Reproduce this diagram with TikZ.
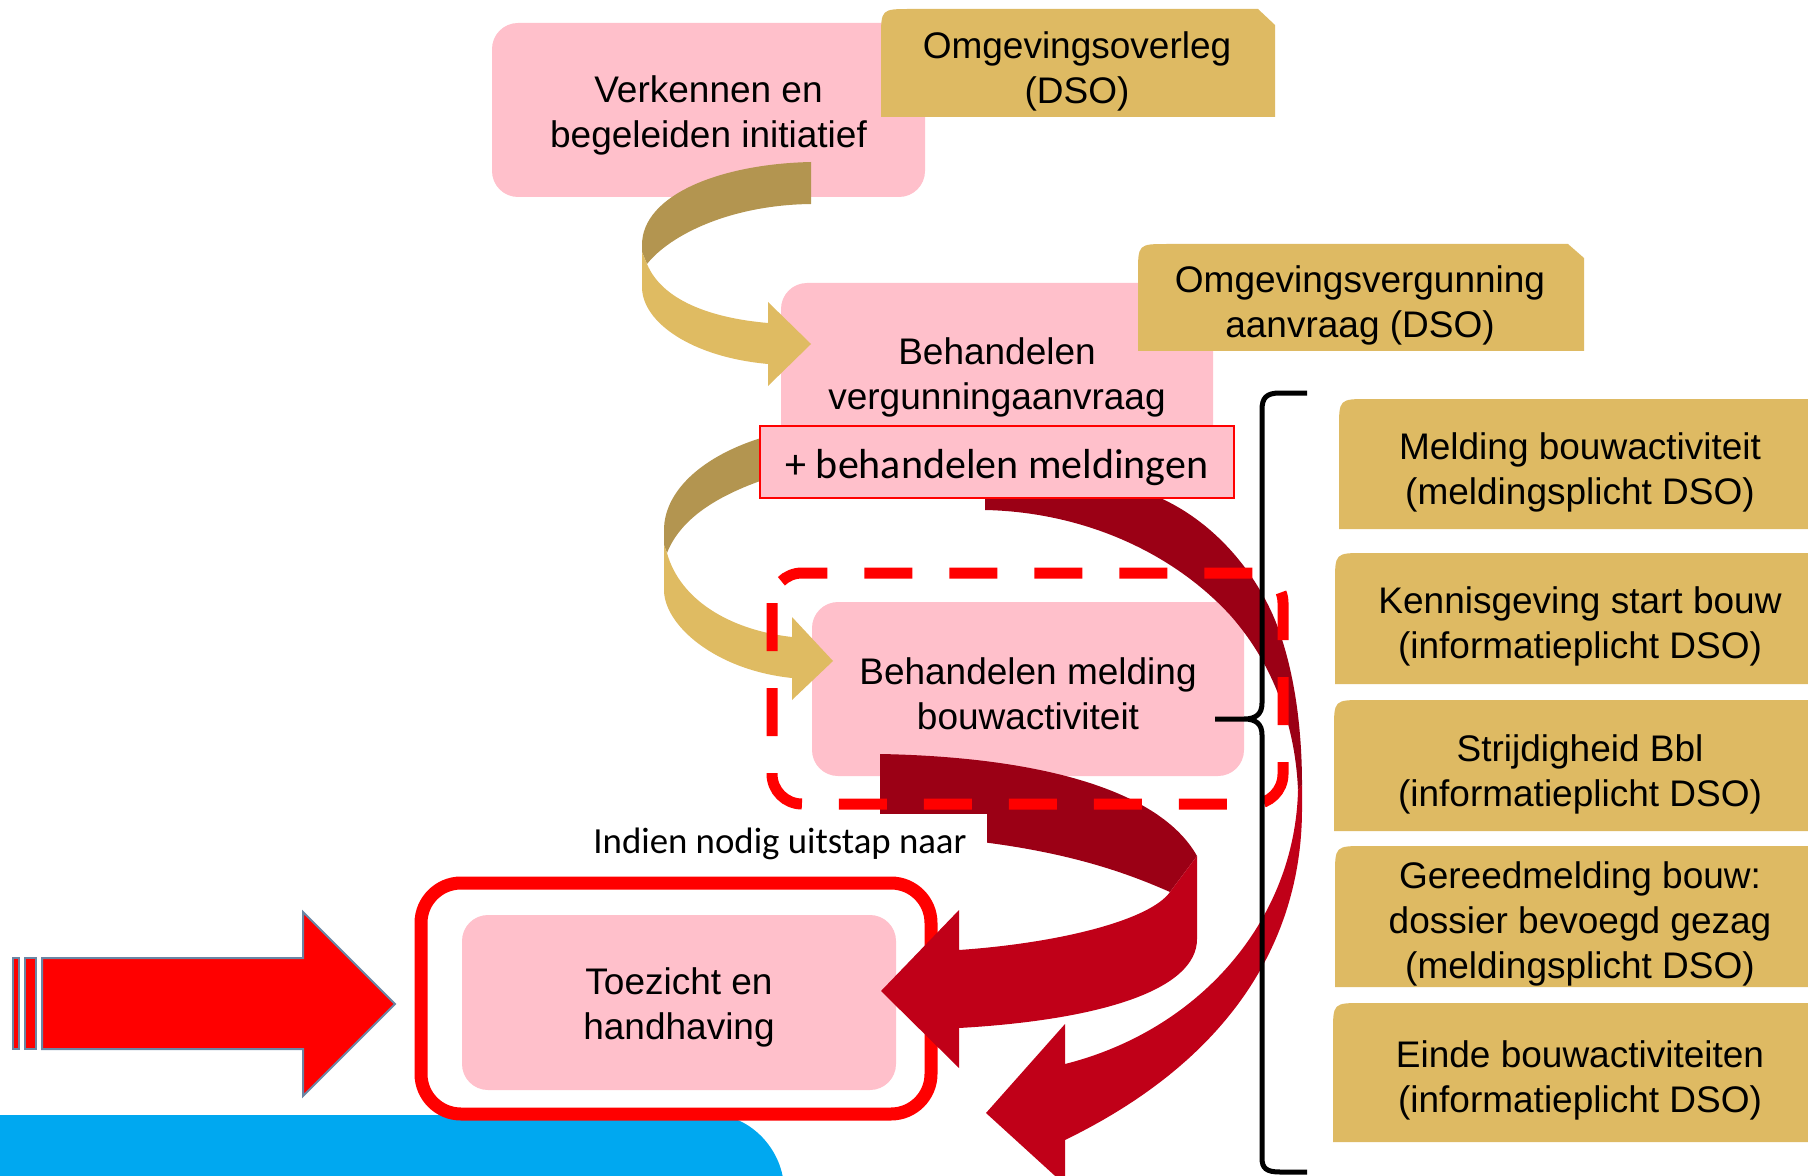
\documentclass[tikz,border=0pt]{standalone}
\usepackage{fontspec}
\setmainfont{Liberation Sans}
\newfontfamily\calibri{Carlito}
\newcommand{\boxfont}{\fontsize{18.5}{22.5}\selectfont}
\newcommand{\plusfont}{\calibri\fontsize{21}{25}\selectfont}
\newcommand{\uitstapfont}{\calibri\fontsize{18.4}{22}\selectfont}
\definecolor{pinkc}{RGB}{255,192,203}
\definecolor{tanc}{RGB}{222,186,99}
\definecolor{tandark}{RGB}{179,149,80}
\definecolor{tanlight}{RGB}{223,187,98}
\definecolor{reddark}{RGB}{155,0,21}
\definecolor{redlight}{RGB}{192,0,24}
\definecolor{bluec}{RGB}{0,168,240}
\definecolor{slate}{RGB}{106,134,164}

\begin{document}
\begin{tikzpicture}[x=0.5pt,y=-0.5pt,
  tanlabel/.style={align=center,font=\boxfont},
  leftarrow/.style={fill=red,draw=slate,line width=1pt}]
  \useasboundingbox (0,0) rectangle (1808,1176);
  \clip (0,0) rectangle (1808,1176);

  \fill[bluec] (0,1115) -- (714,1115) .. controls (750,1115) and (784,1150) .. (784,1190) -- (0,1190) -- cycle;

  \filldraw[leftarrow] (42,958) -- (303,958) -- (303,912) -- (395,1004) -- (303,1096) -- (303,1049) -- (42,1049) -- cycle;
  \filldraw[leftarrow] (13,958) rectangle (19,1049);
  \filldraw[leftarrow] (25,958) rectangle (36,1049);

  \fill[pinkc,rounded corners=13pt] (492,23) rectangle (925,197);
  \node[tanlabel] (verkennen) at (708.5,115) {Verkennen en\\begeleiden initiatief};
  \fill[tanc] (881,117) -- (881,39) .. controls (881,9) .. (911,9) -- (1258,9) -- (1275,25) -- (1275,117) -- cycle;
  \node[tanlabel] (overleg) at (1077,71) {Omgevingsoverleg\\(DSO)};

  \fill[pinkc,rounded corners=13pt] (781,283) rectangle (1213,461);
  \node[tanlabel] (vergunning) at (997,377) {Behandelen\\vergunningaanvraag};
  \fill[tanc] (1138,351) -- (1138,274) .. controls (1138,244) .. (1168,244) -- (1568,244) -- (1584,258) -- (1584,351) -- cycle;
  \node[tanlabel] (aanvraag) at (1360,305) {Omgevingsvergunning\\aanvraag (DSO)};

  \fill[tandark] (811,162) .. controls (720,164) and (642,195) .. (642,245) -- (642,252) -- (647,264) .. controls (670,235) and (730,205) .. (811,204) -- cycle;
  \fill[tanlight] (642,252) -- (642,287) .. controls (642,322) and (691,357) .. (768,364) -- (768,386) -- (811,344) -- (768,302) -- (768,323) .. controls (710,318) and (662,300) .. (647,264) -- cycle;

  \fill[pinkc,rounded corners=13pt] (812,602) rectangle (1244,776);
  \node[tanlabel] (melding) at (1028,694) {Behandelen melding\\bouwactiviteit};

  \fill[tandark] (775,434) .. controls (705,452) and (664,490) .. (664,530) -- (664,545) -- (667,553) .. controls (680,520) and (715,495) .. (775,476) -- cycle;
  \fill[tanlight] (664,545) -- (664,590) .. controls (664,625) and (715,670) .. (792,678) -- (792,700) -- (833,661) -- (792,617) -- (792,637) .. controls (730,630) and (680,600) .. (667,553) -- cycle;

  \fill[reddark] (985,485) -- (1120,485) .. controls (1195,500) and (1250,560) .. (1275,620) .. controls (1295,670) and (1302,730) .. (1302,785) -- (1298,790) .. controls (1295,720) and (1270,660) .. (1230,615) .. controls (1170,550) and (1080,512) .. (985,510) -- cycle;
  \fill[redlight] (1302,785) -- (1302,809) .. controls (1302,920) and (1250,1050) .. (1065,1140) -- (1065,1185) -- (986,1113) -- (1065,1024) -- (1065,1064) .. controls (1200,1030) and (1295,920) .. (1298,790) -- cycle;

  \draw[red,line width=6.5pt,rounded corners=20pt] (421,883) rectangle (931,1114);
  \fill[pinkc,rounded corners=13pt] (462,915) rectangle (896,1090);
  \node[tanlabel] (toezicht) at (679,1007.5) {Toezicht en\\handhaving};

  \fill[reddark] (880,754) .. controls (1040,757) and (1160,790) .. (1197,856) -- (1170,892) .. controls (1120,870) and (1040,840) .. (880,834) -- cycle;
  \fill[redlight] (1197,856) -- (1197,939) .. controls (1197,990) and (1100,1020) .. (959,1028) -- (959,1068) -- (881,991) -- (959,910) -- (959,950) .. controls (1060,943) and (1150,920) .. (1170,892) -- cycle;

  \node[fill=white,font=\uitstapfont,inner xsep=10pt,minimum height=30.5pt] (uitstap) at (780,844) {Indien nodig uitstap naar};

  \filldraw[draw=red,line width=1pt,fill=pinkc] (760,426) rectangle (1234,498);
  \node[font=\plusfont] (meldingen) at (997,468) {+ behandelen meldingen};

  \draw[red,line width=5.5pt,dash pattern=on 24pt off 18.5pt,rounded corners=15pt] (772,573) rectangle (1283,804);

  \fill[tanc] (1339,529) -- (1339,429) .. controls (1339,399) .. (1369,399) -- (1830,399) -- (1830,529) -- cycle;
  \fill[tanc] (1335,684) -- (1335,583) .. controls (1335,553) .. (1365,553) -- (1830,553) -- (1830,684) -- cycle;
  \fill[tanc] (1334,831) -- (1334,730) .. controls (1334,700) .. (1364,700) -- (1830,700) -- (1830,831) -- cycle;
  \fill[tanc] (1335,987) -- (1335,876) .. controls (1335,846) .. (1365,846) -- (1830,846) -- (1830,987) -- cycle;
  \fill[tanc] (1333,1142) -- (1333,1033) .. controls (1333,1003) .. (1363,1003) -- (1830,1003) -- (1830,1142) -- cycle;

  \node[tanlabel] (meldplicht) at (1580,472) {Melding bouwactiviteit\\(meldingsplicht DSO)};
  \node[tanlabel] (startbouw) at (1580,626) {Kennisgeving start bouw\\(informatieplicht DSO)};
  \node[tanlabel] (strijdig) at (1580,774) {Strijdigheid Bbl\\(informatieplicht DSO)};
  \node[tanlabel] (gereed) at (1580,924) {Gereedmelding bouw:\\dossier bevoegd gezag\\(meldingsplicht DSO)};
  \node[tanlabel] (einde) at (1580,1080) {Einde bouwactiviteiten\\(informatieplicht DSO)};

  \draw[line width=2.5pt] (1307,393) -- (1280,393) .. controls (1266,393) and (1262,398) .. (1262,410) -- (1262,703) .. controls (1262,714) and (1256,719) .. (1244,719) -- (1215,719)
    (1244,719) .. controls (1256,719) and (1262,724) .. (1262,735) -- (1262,1158) .. controls (1262,1168) and (1266,1172) .. (1280,1172) -- (1307,1172);
\end{tikzpicture}
\end{document}
